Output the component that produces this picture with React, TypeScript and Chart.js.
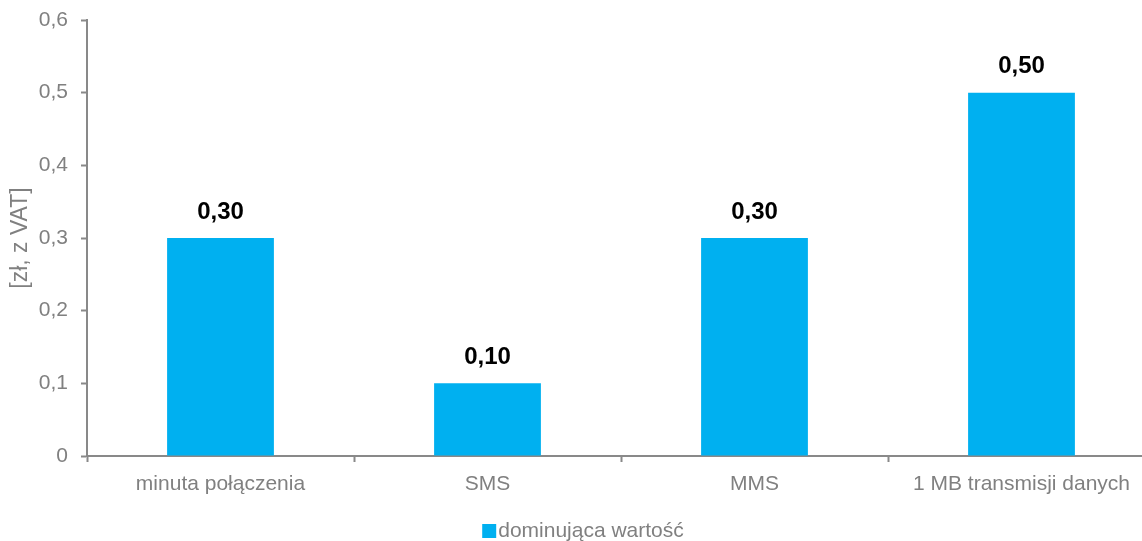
import React, { useEffect, useRef } from "react";
import { Chart, registerables } from "chart.js";

Chart.register(...registerables);

const categories = ["minuta połączenia", "SMS", "MMS", "1 MB transmisji danych"];
const values = [0.3, 0.1, 0.3, 0.5];
const seriesLabel = "dominująca wartość";
const yTitle = "[zł, z VAT]";
const yMin = 0;
const yMax = 0.6;
const yStep = 0.1;

const FONT = '"Liberation Sans", Arial, sans-serif';
const GRAY = "#808080";
const AXIS = "#898989";
const BLUE = "#00B0F0";

const fmt = (v: number, d: number) => (v === 0 && d === 1 ? "0" : v.toFixed(d).replace(".", ","));

const dataLabels = {
  id: "dataLabels",
  afterDatasetsDraw(chart: any) {
    const ctx = chart.ctx;
    const meta = chart.getDatasetMeta(0);
    ctx.save();
    ctx.font = `bold 24px ${FONT}`;
    ctx.fillStyle = "#000000";
    ctx.textAlign = "center";
    ctx.textBaseline = "middle";
    meta.data.forEach((bar: any, i: number) => {
      ctx.fillText(fmt(values[i], 2), bar.x, bar.y - 26);
    });
    ctx.restore();
  },
};

const bottomLegend = {
  id: "bottomLegend",
  afterDraw(chart: any) {
    const ctx = chart.ctx;
    ctx.save();
    ctx.font = `21px ${FONT}`;
    const tw = ctx.measureText(seriesLabel).width;
    const box = 14;
    const gap = 2;
    const total = box + gap + tw;
    const x0 = chart.width / 2 - total / 2;
    const yc = 531;
    ctx.fillStyle = BLUE;
    ctx.fillRect(x0, yc - box / 2, box, box);
    ctx.fillStyle = GRAY;
    ctx.textAlign = "left";
    ctx.textBaseline = "middle";
    ctx.fillText(seriesLabel, x0 + box + gap, yc);
    ctx.restore();
  },
};

export default function App() {
  const ref = useRef<HTMLCanvasElement>(null);
  useEffect(() => {
    document.body.style.margin = "0";
    document.body.style.overflow = "hidden";
    const chart = new Chart(ref.current!, {
      type: "bar",
      data: {
        labels: categories,
        datasets: [
          {
            label: seriesLabel,
            data: values,
            backgroundColor: BLUE,
            borderWidth: 0,
            barPercentage: 0.4,
            categoryPercentage: 1,
          },
        ],
      },
      options: {
        animation: false,
        responsive: true,
        maintainAspectRatio: false,
        layout: { padding: { top: 20, right: 11, left: 0, bottom: 0 } },
        plugins: {
          tooltip: { enabled: false },
          legend: { display: false },
        },
        scales: {
          x: {
            grid: {
              display: true,
              drawOnChartArea: false,
              tickLength: 6,
              tickWidth: 2,
              tickColor: AXIS,
              offset: true,
            },
            border: { color: AXIS, width: 2 },
            ticks: { color: GRAY, font: { family: FONT, size: 21 }, padding: 10, maxRotation: 0 },
            afterFit: (s: any) => {
              s.height = 85;
              s.paddingLeft = 0;
              s.paddingRight = 0;
            },
          },
          y: {
            min: yMin,
            max: yMax,
            grid: {
              display: true,
              drawOnChartArea: false,
              tickLength: 6,
              tickWidth: 2,
              tickColor: AXIS,
            },
            border: { color: AXIS, width: 2 },
            ticks: {
              stepSize: yStep,
              color: GRAY,
              padding: 13,
              font: { family: FONT, size: 21 },
              callback: (v: any) => fmt(Number(v), 1),
            },
            title: {
              display: true,
              text: yTitle,
              color: GRAY,
              font: { family: FONT, size: 23 },
              padding: { top: 7, bottom: 0 },
            },
            afterFit: (s: any) => {
              s.width = 87;
              s.paddingTop = 0;
              s.paddingBottom = 0;
            },
          },
        },
      },
      plugins: [dataLabels, bottomLegend],
    });
    return () => chart.destroy();
  }, []);
  return (
    <div style={{ width: 1166, height: 541, position: "relative" }}>
      <canvas ref={ref} />
    </div>
  );
}
